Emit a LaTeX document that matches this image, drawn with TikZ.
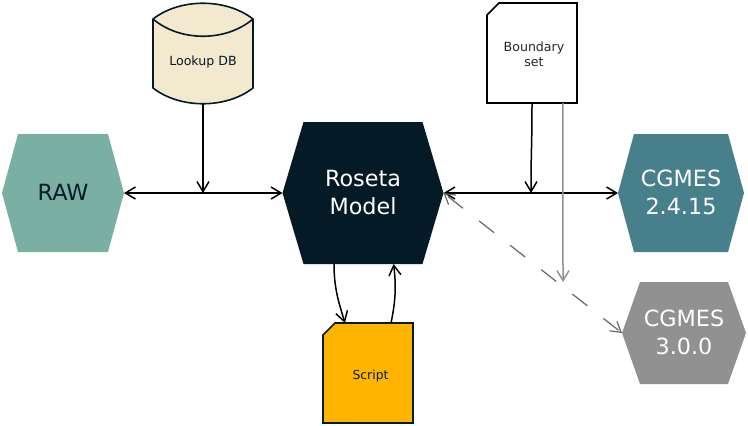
\documentclass[tikz,border=0pt]{standalone}
\usepackage{fontspec}
\setmainfont{DejaVu Sans}
\usetikzlibrary{shapes.misc,arrows.meta,calc}
\definecolor{navy}{HTML}{041A26}
\definecolor{rawc}{HTML}{7AAFA3}
\definecolor{cgone}{HTML}{47808A}
\definecolor{cgtwo}{HTML}{919191}
\definecolor{scriptc}{HTML}{FFB500}
\definecolor{cream}{HTML}{F3E9CF}
\tikzset{
  x=1pt,y=-1pt,
  >={Straight Barb[length=10pt,width=12pt]},
  conn/.style={line width=1.5pt,black},
  hexa/.style 2 args={shape=rectangle,inner sep=0pt,align=center,draw=none,outer sep=0pt,
    font=\fontsize{22.3}{27.5}\selectfont,
    path picture={\fill[#2]
      (path picture bounding box.west)
      -- ([xshift=#1]path picture bounding box.north west)
      -- ([xshift=-#1]path picture bounding box.north east)
      -- (path picture bounding box.east)
      -- ([xshift=-#1]path picture bounding box.south east)
      -- ([xshift=#1]path picture bounding box.south west) -- cycle;}},
  doc/.style={shape=chamfered rectangle,chamfered rectangle corners=north west,chamfered rectangle sep=6pt,
    inner sep=0pt,align=center,line width=1.6pt,outer sep=0pt,font=\fontsize{12.6}{15.5}\selectfont},
}
\begin{document}
\begin{tikzpicture}
\useasboundingbox (0,0) rectangle (748,426);
% hexagons
\node[hexa={16pt}{rawc},text=navy,minimum width=122pt,minimum height=118pt] (raw) at (63,193) {\raisebox{1pt}{RAW}};
\node[hexa={21pt}{navy},text=white,minimum width=161pt,minimum height=142pt] (roseta) at (363,193) {\raisebox{1.5pt}{Roseta}\\\raisebox{1.5pt}{Model}};
\node[hexa={16pt}{cgone},text=white,minimum width=126pt,minimum height=118pt] (cgone) at (681,193) {\raisebox{1.5pt}{CGMES}\\\raisebox{1.5pt}{2.4.15}};
\node[hexa={18pt}{cgtwo},text=white,minimum width=124pt,minimum height=102pt] (cgtwo) at (684,333) {\raisebox{1.5pt}{CGMES}\\\raisebox{1.5pt}{3.0.0}};
% documents
\node[doc,draw=navy,fill=scriptc,text=navy,minimum width=90pt,minimum height=100pt] (script) at (368,373) {\hspace{5pt}\rule{0pt}{15pt}{\fontsize{12.4}{14}\selectfont Script}};
\node[doc,draw=black,fill=white,text=black!85,minimum width=90pt,minimum height=100pt] (bset) at (532,53) {\hspace{4pt}\rule{0pt}{12pt}Boundary\\\hspace{4pt}set};
% database
\filldraw[fill=cream,draw=navy,line width=1.6pt,line join=round]
  (153,19) .. controls (180,-2) and (226,-2) .. (253,19) -- (253,88)
  .. controls (226,109) and (180,109) .. (153,88) -- cycle;
\draw[navy,line width=1.6pt] (153,19) .. controls (180,42) and (226,42) .. (253,19);
\node[inner sep=0pt,text=navy,font=\fontsize{12.6}{14}\selectfont] (lookup) at (203,62) {Lookup DB};
\coordinate (lookupbot) at (203,104);
% junctions
\coordinate (jleft) at (203,193);
\coordinate (jright) at (531,193);
\coordinate (greyend) at (563,282);
\coordinate (sinb) at ($(script.south west)!0.244!(script.south east)$);
\coordinate (soutb) at ($(script.south west)!0.756!(script.south east)$);
\coordinate (scriptin) at (sinb |- script.north);
\coordinate (scriptout) at (soutb |- script.north);
% connectors
\draw[conn,<->] (raw.east) -- (roseta.west);
\draw[conn,<->] (roseta.east) -- (cgone.west);
\draw[conn,->] (lookupbot) -- (jleft);
\draw[conn,->] (bset.south) .. controls +(0,45) and +(0,-45) .. (jright);
\draw[line width=1.5pt,cgtwo,->] ($(bset.south west)!0.844!(bset.south east)$) -- (greyend);
\draw[line width=1.2pt,black!60,dash pattern=on 19pt off 20.5pt,dash phase=-4pt,<->] (roseta.east) -- (cgtwo.west);
\draw[conn,->] ($(roseta.south west)!0.32!(roseta.south east)$) .. controls +(0,25) and +(-6,-20) .. (scriptin);
\draw[conn,->] (scriptout) .. controls +(4,-20) and +(3,25) .. ($(roseta.south west)!0.69!(roseta.south east)$);
\end{tikzpicture}
\end{document}
